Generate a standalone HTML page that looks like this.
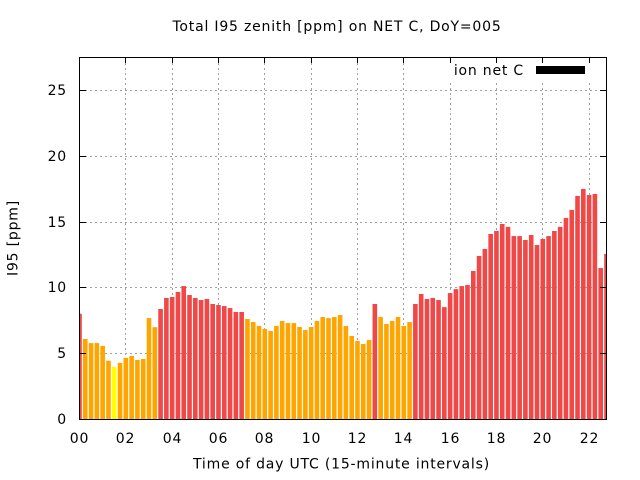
<!DOCTYPE html>
<html>
<head>
<meta charset="utf-8">
<style>
html,body{margin:0;padding:0;background:#fff;overflow:hidden;width:640px;height:480px;}
svg{display:block;}
text{font-family:"DejaVu Sans","Liberation Sans",sans-serif;font-size:14px;letter-spacing:0.8px;fill:#000;}
</style>
</head>
<body>
<svg width="640" height="480" viewBox="0 0 640 480" xmlns="http://www.w3.org/2000/svg">
<defs>
<clipPath id="pa"><rect x="80" y="58" width="526" height="361.5"/></clipPath>
</defs>
<rect x="0" y="0" width="640" height="480" fill="#fff"/>
<g stroke="#a0a0a0" stroke-width="1" stroke-dasharray="2 3" fill="none">
<line x1="80" y1="353.5" x2="606" y2="353.5"/>
<line x1="80" y1="287.5" x2="606" y2="287.5"/>
<line x1="80" y1="222.5" x2="606" y2="222.5"/>
<line x1="80" y1="156.5" x2="606" y2="156.5"/>
<line x1="80" y1="90.5" x2="606" y2="90.5"/>
<line x1="125.5" y1="58" x2="125.5" y2="419"/>
<line x1="172.5" y1="58" x2="172.5" y2="419"/>
<line x1="218.5" y1="58" x2="218.5" y2="419"/>
<line x1="264.5" y1="58" x2="264.5" y2="419"/>
<line x1="311.5" y1="58" x2="311.5" y2="419"/>
<line x1="357.5" y1="58" x2="357.5" y2="419"/>
<line x1="403.5" y1="58" x2="403.5" y2="419"/>
<line x1="450.5" y1="58" x2="450.5" y2="419"/>
<line x1="496.5" y1="58" x2="496.5" y2="419"/>
<line x1="542.5" y1="58" x2="542.5" y2="419"/>
<line x1="589.5" y1="58" x2="589.5" y2="419"/>
</g>
<g clip-path="url(#pa)">
<g fill="#f04747">
<rect x="80" y="313.72" width="1.8" height="105.78"/>
<rect x="158.27" y="308.98" width="4.6" height="110.52"/>
<rect x="164.07" y="297.93" width="4.6" height="121.57"/>
<rect x="169.86" y="297.01" width="4.6" height="122.49"/>
<rect x="175.65" y="292.00" width="4.6" height="127.5"/>
<rect x="181.44" y="286.08" width="4.6" height="133.42"/>
<rect x="187.23" y="295.03" width="4.6" height="124.47"/>
<rect x="193.02" y="297.93" width="4.6" height="121.57"/>
<rect x="198.81" y="300.03" width="4.6" height="119.47"/>
<rect x="204.60" y="298.98" width="4.6" height="120.52"/>
<rect x="210.39" y="303.98" width="4.6" height="115.52"/>
<rect x="216.18" y="305.03" width="4.6" height="114.47"/>
<rect x="221.98" y="306.09" width="4.6" height="113.41"/>
<rect x="227.77" y="308.06" width="4.6" height="111.44"/>
<rect x="233.56" y="312.01" width="4.6" height="107.49"/>
<rect x="239.35" y="312.01" width="4.6" height="107.49"/>
<rect x="372.54" y="303.98" width="4.6" height="115.52"/>
<rect x="413.08" y="303.98" width="4.6" height="115.52"/>
<rect x="418.87" y="293.98" width="4.6" height="125.52"/>
<rect x="424.66" y="298.98" width="4.6" height="120.52"/>
<rect x="430.45" y="297.93" width="4.6" height="121.57"/>
<rect x="436.24" y="300.03" width="4.6" height="119.47"/>
<rect x="442.03" y="307.14" width="4.6" height="112.36"/>
<rect x="447.82" y="293.06" width="4.6" height="126.44"/>
<rect x="453.62" y="289.11" width="4.6" height="130.39"/>
<rect x="459.41" y="286.08" width="4.6" height="133.42"/>
<rect x="465.20" y="285.03" width="4.6" height="134.47"/>
<rect x="470.99" y="270.95" width="4.6" height="148.55"/>
<rect x="476.78" y="255.95" width="4.6" height="163.55"/>
<rect x="482.57" y="248.97" width="4.6" height="170.53"/>
<rect x="488.36" y="233.97" width="4.6" height="185.53"/>
<rect x="494.15" y="230.94" width="4.6" height="188.56"/>
<rect x="499.94" y="223.97" width="4.6" height="195.53"/>
<rect x="505.73" y="226.86" width="4.6" height="192.64"/>
<rect x="511.53" y="236.08" width="4.6" height="183.42"/>
<rect x="517.32" y="236.08" width="4.6" height="183.42"/>
<rect x="523.11" y="240.02" width="4.6" height="179.48"/>
<rect x="528.90" y="235.02" width="4.6" height="184.48"/>
<rect x="534.69" y="245.02" width="4.6" height="174.48"/>
<rect x="540.48" y="238.97" width="4.6" height="180.53"/>
<rect x="546.27" y="236.08" width="4.6" height="183.42"/>
<rect x="552.06" y="231.00" width="4.6" height="188.5"/>
<rect x="557.85" y="226.86" width="4.6" height="192.64"/>
<rect x="563.64" y="217.92" width="4.6" height="201.58"/>
<rect x="569.44" y="209.89" width="4.6" height="209.61"/>
<rect x="575.23" y="195.94" width="4.6" height="223.56"/>
<rect x="581.02" y="188.96" width="4.6" height="230.54"/>
<rect x="586.81" y="195.02" width="4.6" height="224.48"/>
<rect x="592.60" y="193.96" width="4.6" height="225.54"/>
<rect x="598.39" y="268.05" width="4.6" height="151.45"/>
<rect x="604.18" y="253.97" width="1.82" height="165.53"/>
</g>
<g fill="#ffa500">
<rect x="82.99" y="338.99" width="4.6" height="80.51"/>
<rect x="88.78" y="343.07" width="4.6" height="76.43"/>
<rect x="94.57" y="343.07" width="4.6" height="76.43"/>
<rect x="100.36" y="345.96" width="4.6" height="73.54"/>
<rect x="106.16" y="360.70" width="4.6" height="58.8"/>
<rect x="117.74" y="362.94" width="4.6" height="56.56"/>
<rect x="123.53" y="357.94" width="4.6" height="61.56"/>
<rect x="129.32" y="355.96" width="4.6" height="63.54"/>
<rect x="135.11" y="359.91" width="4.6" height="59.59"/>
<rect x="140.90" y="358.99" width="4.6" height="60.51"/>
<rect x="146.69" y="318.06" width="4.6" height="101.44"/>
<rect x="152.48" y="327.14" width="4.6" height="92.36"/>
<rect x="245.14" y="318.98" width="4.6" height="100.52"/>
<rect x="250.93" y="322.01" width="4.6" height="97.49"/>
<rect x="256.72" y="325.96" width="4.6" height="93.54"/>
<rect x="262.51" y="328.99" width="4.6" height="90.51"/>
<rect x="268.30" y="330.96" width="4.6" height="88.54"/>
<rect x="274.09" y="325.96" width="4.6" height="93.54"/>
<rect x="279.89" y="320.96" width="4.6" height="98.54"/>
<rect x="285.68" y="323.06" width="4.6" height="96.44"/>
<rect x="291.47" y="323.06" width="4.6" height="96.44"/>
<rect x="297.26" y="327.01" width="4.6" height="92.49"/>
<rect x="303.05" y="330.04" width="4.6" height="89.46"/>
<rect x="308.84" y="327.01" width="4.6" height="92.49"/>
<rect x="314.63" y="320.96" width="4.6" height="98.54"/>
<rect x="320.42" y="317.01" width="4.6" height="102.49"/>
<rect x="326.21" y="318.06" width="4.6" height="101.44"/>
<rect x="332.00" y="317.01" width="4.6" height="102.49"/>
<rect x="337.80" y="315.04" width="4.6" height="104.46"/>
<rect x="343.59" y="325.96" width="4.6" height="93.54"/>
<rect x="349.38" y="335.96" width="4.6" height="83.54"/>
<rect x="355.17" y="340.96" width="4.6" height="78.54"/>
<rect x="360.96" y="343.99" width="4.6" height="75.51"/>
<rect x="366.75" y="340.04" width="4.6" height="79.46"/>
<rect x="378.33" y="317.01" width="4.6" height="102.49"/>
<rect x="384.12" y="323.98" width="4.6" height="95.52"/>
<rect x="389.91" y="320.96" width="4.6" height="98.54"/>
<rect x="395.71" y="317.01" width="4.6" height="102.49"/>
<rect x="401.50" y="325.96" width="4.6" height="93.54"/>
<rect x="407.29" y="322.01" width="4.6" height="97.49"/>
</g>
<rect x="111.95" y="367.02" width="4.6" height="52.48" fill="#ffff00"/>
</g>
<rect x="446" y="58" width="159" height="22" fill="#fff"/>
<text x="524" y="75" text-anchor="end">ion net C</text>
<rect x="536" y="66" width="49" height="8" fill="#000"/>
<g stroke="#000" stroke-width="1" fill="none">
<line x1="80" y1="90.5" x2="86" y2="90.5"/>
<line x1="80" y1="156.5" x2="86" y2="156.5"/>
<line x1="80" y1="222.5" x2="86" y2="222.5"/>
<line x1="80" y1="287.5" x2="86" y2="287.5"/>
<line x1="80" y1="353.5" x2="86" y2="353.5"/>
<line x1="600" y1="90.5" x2="606" y2="90.5"/>
<line x1="600" y1="156.5" x2="606" y2="156.5"/>
<line x1="600" y1="222.5" x2="606" y2="222.5"/>
<line x1="600" y1="287.5" x2="606" y2="287.5"/>
<line x1="600" y1="353.5" x2="606" y2="353.5"/>
<line x1="125.5" y1="58" x2="125.5" y2="63"/>
<line x1="172.5" y1="58" x2="172.5" y2="63"/>
<line x1="218.5" y1="58" x2="218.5" y2="63"/>
<line x1="264.5" y1="58" x2="264.5" y2="63"/>
<line x1="311.5" y1="58" x2="311.5" y2="63"/>
<line x1="357.5" y1="58" x2="357.5" y2="63"/>
<line x1="403.5" y1="58" x2="403.5" y2="63"/>
<line x1="450.5" y1="58" x2="450.5" y2="63"/>
<line x1="496.5" y1="58" x2="496.5" y2="63"/>
<line x1="542.5" y1="58" x2="542.5" y2="63"/>
<line x1="589.5" y1="58" x2="589.5" y2="63"/>
</g>
<rect x="79.5" y="57.5" width="527" height="362" fill="none" stroke="#000" stroke-width="1"/>
<g text-anchor="end">
<text x="67" y="424">0</text>
<text x="67" y="358">5</text>
<text x="67" y="292">10</text>
<text x="67" y="227">15</text>
<text x="67" y="161">20</text>
<text x="67" y="95">25</text>
</g>
<g text-anchor="middle">
<text x="79.5" y="443">00</text>
<text x="125.5" y="443">02</text>
<text x="172.5" y="443">04</text>
<text x="218.5" y="443">06</text>
<text x="264.5" y="443">08</text>
<text x="311.5" y="443">10</text>
<text x="357.5" y="443">12</text>
<text x="403.5" y="443">14</text>
<text x="450.5" y="443">16</text>
<text x="496.5" y="443">18</text>
<text x="542.5" y="443">20</text>
<text x="589.5" y="443">22</text>
</g>
<text x="337" y="31" text-anchor="middle">Total I95 zenith [ppm] on NET C, DoY=005</text>
<text x="341.5" y="468.5" text-anchor="middle">Time of day UTC (15-minute intervals)</text>
<text transform="translate(17.5,238) rotate(-90)" text-anchor="middle">I95 [ppm]</text>
</svg>
</body>
</html>
